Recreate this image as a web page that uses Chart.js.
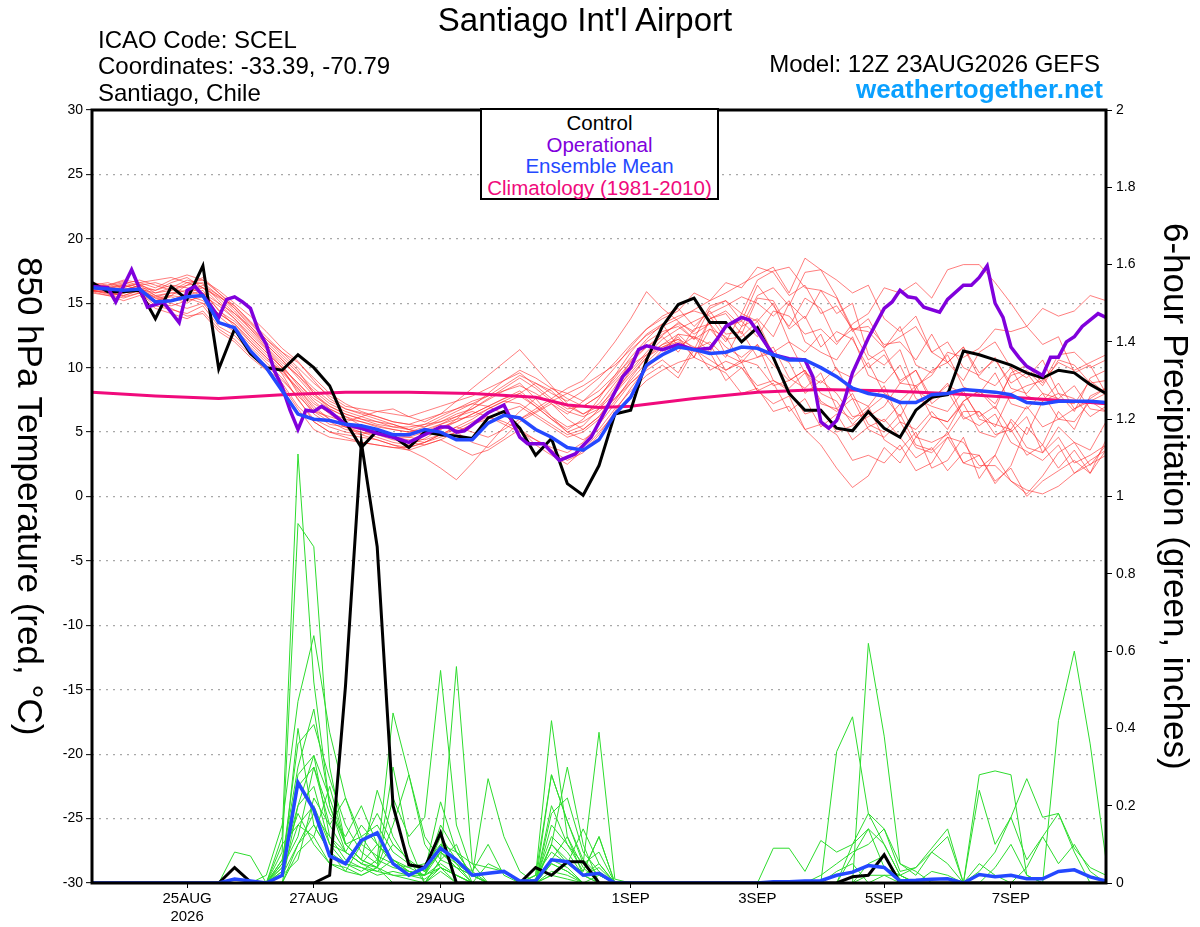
<!DOCTYPE html>
<html>
<head>
<meta charset="utf-8">
<script src="https://cdn.jsdelivr.net/npm/chart.js@4.4.1/dist/chart.umd.min.js"></script>
<style>
  body { margin: 0; background: #fff; font-family: "Liberation Sans", Arial, sans-serif; }
  #wrap { position: relative; width: 1200px; height: 927px; overflow: hidden; }
  #c { position: absolute; left: 0; top: 0; }
  .t { position: absolute; white-space: nowrap; color: #000; line-height: 1; }
  #legend { position: absolute; left: 480px; top: 108px; width: 235px; height: 86px; border: 2px solid #000;
            background: #fff; text-align: center; font-size: 20.5px; line-height: 21.5px; padding-top: 2px; }
  .vt { position: absolute; top: 110px; height: 773px; writing-mode: vertical-rl; text-align: center;
        font-size: 35px; line-height: 35px; white-space: nowrap; }
</style>
</head>
<body>
<div id="wrap">
  <canvas id="c" width="1200" height="927"></canvas>
  <div class="t" style="left:585px;top:3px;font-size:33px;transform:translateX(-50%)">Santiago Int'l Airport</div>
  <div class="t" style="left:98px;top:28px;font-size:24px">ICAO Code: SCEL</div>
  <div class="t" style="left:98px;top:54px;font-size:24px">Coordinates: -33.39, -70.79</div>
  <div class="t" style="left:98px;top:81px;font-size:24px">Santiago, Chile</div>
  <div class="t" style="right:100px;top:52px;font-size:24px">Model: 12Z 23AUG2026 GEFS</div>
  <div class="t" style="right:97px;top:76px;font-size:26px;font-weight:bold;color:#0aa0ff">weathertogether.net</div>
  <div id="legend">
    <div style="color:#000">Control</div>
    <div style="color:#8000dc">Operational</div>
    <div style="color:#2448ff">Ensemble Mean</div>
    <div style="color:#f00a7c">Climatology (1981-2010)</div>
  </div>
  <div class="vt" style="left:13px">850 hPa Temperature (red, °C)</div>
  <div class="vt" style="left:1159px">6-hour Precipitation (green, inches)</div>
</div>
<script>
// forecast hours, 6-hourly from 12Z 23AUG2026
const hours6 = [0,6,12,18,24,30,36,42,48,54, 60,66,72,78,84,90,96,102,108,114,
  120,126,132,138,144,150,156,162,168,174, 180,186,192,198,204,210,216,222,228,234,
  240,246,252,258,264,270,276,282,288,294, 300,306,312,318,324,330,336,342,348,354,
  360,366,372,378,384];

const tickHours = [36, 84, 132, 204, 252, 300, 348];
const tickLabels = [['25AUG', '2026'], '27AUG', '29AUG', '1SEP', '3SEP', '5SEP', '7SEP'];

// control run 850 hPa temperature
const controlTemp = [16.6,15.9,15.9,16.0,13.8,16.3,15.3,17.9,9.9,13.0,
  11.1,10.0,9.8,11.0,10.0,8.6,5.8,3.8,5.1,4.7,
  3.8,5.0,4.8,4.7,4.5,6.1,6.6,5.3,3.2,4.5,
  1.0,0.1,2.4,6.4,6.7,10.6,13.2,14.9,15.4,13.5,
  13.5,12.0,13.1,10.8,8.0,6.7,6.7,5.3,5.1,6.6,
  5.3,4.6,6.7,7.7,7.9,11.3,11.0,10.6,10.2,9.6,
  9.2,9.8,9.6,8.7,8.0];

// ensemble mean 850 hPa temperature
const meanTemp = [16.2,16.1,16.0,16.1,15.1,15.2,15.5,15.6,13.5,13.1,
  11.3,10.0,8.2,6.4,6.0,5.9,5.6,5.5,5.2,4.8,
  4.8,5.2,5.0,4.4,4.4,5.7,6.3,6.1,5.2,4.6,
  3.8,3.6,4.4,6.4,7.7,10.2,11.0,11.6,11.4,11.1,
  11.2,11.6,11.5,11.0,10.6,10.6,10.0,9.3,8.4,8.0,
  7.8,7.3,7.3,7.9,8.0,8.3,8.2,8.1,7.9,7.3,
  7.2,7.4,7.4,7.4,7.3];

// operational run (finer output early on)
const opHours = [0,6,9,15,21,27,33,36,39,42,45,48,51,54,57,60,63,66,69,72,75,78,81,84,87,90,93,96,
  102,108,114,120,126,132,135,138,141,150,156,162,165,171,177,183,189,195,201,204,207,210,
  216,222,228,234,237,240,246,249,252,255,258,264,270,273,276,279,282,285,288,294,
  300,303,306,309,312,315,321,324,330,333,336,339,342,345,348,351,354,360,363,366,369,372,375,381,384];
const opTemp = [16.3,16.2,15.1,17.6,14.7,15.1,13.5,16.0,16.3,15.6,14.8,13.9,15.3,15.5,15.1,14.6,12.9,11.8,9.8,8.5,6.7,5.2,6.7,6.6,7.0,6.6,6.1,5.6,
  5.3,4.9,4.6,4.2,4.8,5.4,5.4,5.0,5.1,6.5,7.1,4.6,4.1,4.1,2.8,3.3,4.6,6.9,9.3,10.0,11.4,11.7,
  11.4,11.8,11.4,11.5,12.3,13.2,13.9,13.7,12.8,11.9,11.0,10.7,10.6,9.3,5.8,5.3,5.9,7.5,9.6,12.3,
  14.6,15.1,16.0,15.5,15.4,14.7,14.3,15.3,16.4,16.4,17.0,17.9,15.0,13.9,11.6,10.8,10.1,9.4,10.8,10.8,12.0,12.4,13.2,14.2,13.9];

// 1981-2010 climatology
const climHours = [0,24,48,72,96,120,144,168,180,192,204,228,252,276,300,324,348,372,384];
const climTemp = [8.1,7.8,7.6,7.9,8.1,8.1,8.0,7.7,7.1,6.9,7.0,7.6,8.1,8.3,8.2,8.0,7.7,7.4,7.2];

// ensemble members, 850 hPa temperature
const m1 = [16.2,16.0,16.3,16.5,15.8,16.2,16.8,16.5,15.2,14.0, 12.8,11.5,10.2,8.6,7.2,6.5,6.0,5.8,5.5,5.2, 5.0,5.4,5.8,6.4,6.8,7.5,8.2,8.8,7.6,6.2, 5.0,5.5,6.8,8.5, 10.5,12.0,12.8,13.2,12.2,13.0,11.6,10.8,11.8,10.2, 9.0,9.8,8.0,7.4,5.6,6.8,7.8,6.2,8.4,9.8, 10.4,9.0,11.2,12.0,10.0,9.2,10.6,8.0,7.6,6.2, 7.0];
const m2 = [16.0,15.8,15.6,16.0,15.2,15.5,15.0,15.8,14.5,13.2, 12.0,10.8,9.5,7.5,6.0,5.4,5.0,4.8,5.2,4.6, 4.2,4.8,5.5,5.0,4.2,3.8,4.6,5.8,6.5,7.2, 6.0,5.2,6.2,8.0, 9.8,11.2,12.5,13.5,12.8,14.8,15.2,14.2,16.8,17.5, 17.8,16.2,16.0,14.2,15.0,11.0,10.2,11.4,8.2,7.5, 8.8,6.2,5.5,6.4,4.2,3.5,2.8,4.0,1.8,2.5, 3.2];
const m3 = [16.4,16.2,16.0,16.4,16.0,16.6,17.0,16.2,15.5,14.8, 13.5,12.2,11.0,9.8,8.0,6.8,6.2,5.5,5.0,4.6, 4.4,4.2,4.8,5.4,6.0,6.8,7.4,8.0,8.8,8.2, 7.0,6.4,7.2,8.8, 10.2,11.0,11.8,12.2,11.6,9.8,10.5,10.0,8.6,9.0, 8.2,6.4,6.8,5.0,5.5,6.2,7.0,8.8,8.6,9.4, 11.2,10.8,11.5,13.0,12.8,13.2,14.6,14.0,14.4,15.6, 15.2];
const m4 = [16.0,15.9,15.5,15.8,14.8,14.5,14.2,14.8,13.2,12.5, 11.2,10.0,8.8,7.0,5.8,5.0,4.6,4.2,4.0,3.8, 3.6,4.0,4.4,3.8,3.2,3.6,4.4,5.2,4.0,3.2, 2.5,3.6,5.0,6.4, 7.8,9.0,9.8,10.4,10.8,10.2,9.6,8.0,8.4,6.6, 7.0,5.2,5.6,4.8,2.8,3.2,2.6,4.0,2.0,2.6, 4.6,4.2,2.4,2.4,1.2,0.5,0.2,0.8,1.8,2.8, 3.6];
const m5 = [16.6,16.4,16.8,16.6,16.2,16.8,17.2,16.8,16.0,15.0, 14.0,12.8,11.5,10.5,9.0,7.6,6.8,6.5,6.2,5.8, 5.6,6.0,6.4,6.8,7.2,7.0,6.4,6.0,6.6,7.4, 8.0,8.6,9.4,10.2, 11.4,12.5,13.2,13.8,14.5,15.2,15.8,16.5,17.2,17.8, 15.8,18.5,17.6,15.5,13.0,12.8,11.5,13.2,10.2,9.6, 11.0,8.5,8.0,9.6,7.2,6.8,8.0,6.0,5.8,7.4, 6.6];
const m6 = [16.1,16.0,15.8,16.2,15.0,14.8,15.2,15.5,14.0,13.0, 11.8,10.6,9.8,8.2,6.6,5.8,5.2,5.0,4.6,4.2, 4.0,4.5,5.2,6.0,7.0,8.0,9.0,9.6,8.6,7.6, 6.8,7.0,7.8,9.2, 10.8,12.2,13.4,14.0,14.4,14.0,12.2,12.4,13.6,11.0, 10.4,8.0,9.0,8.0,6.2,6.4,5.8,7.2,4.6,4.2, 4.8,6.6,6.6,5.4,8.0,8.6,9.0,10.4,9.8,10.4, 11.0];
const m7 = [15.9,15.6,15.2,15.6,14.6,14.2,13.8,14.4,13.0,12.2, 11.0,10.2,9.0,7.8,6.6,6.2,5.8,6.2,6.6,6.8, 6.2,5.8,6.4,7.4,8.4,9.4,10.4,11.4,10.0,8.6, 7.2,6.4,7.0,8.2, 9.6,11.0,12.2,13.0,13.6,14.2,14.8,15.5,15.0,14.0, 15.2,12.0,11.2,10.6,12.4,9.4,8.8,10.2,7.6,7.0, 6.6,8.2,6.0,5.6,5.2,7.0,5.4,6.0,6.8,7.6, 8.4];
const m8 = [16.3,16.1,16.4,16.0,15.5,15.8,16.0,15.6,14.8,13.8, 12.6,11.4,10.0,8.8,7.4,6.4,5.6,5.2,4.8,4.4, 4.2,4.0,4.4,5.0,5.6,6.0,6.6,7.0,6.2,5.4, 4.6,5.0,6.0,7.4, 9.2,10.8,11.6,12.0,11.4,10.6,9.8,10.4,8.2,7.2, 7.8,5.2,4.0,2.2,0.7,1.6,3.8,2.6,4.6,6.2, 5.8,7.4,8.2,7.2,9.4,9.8,8.6,10.6,10.2,8.8, 9.0];
const m9 = [16.0,16.2,16.5,16.8,16.4,16.0,16.4,17.0,15.8,14.6, 13.2,11.8,10.6,9.2,7.8,7.0,6.4,6.0,5.8,5.6, 5.2,5.0,5.6,6.2,6.6,6.2,5.6,5.0,4.4,3.8, 3.4,4.2,5.6,7.2, 8.8,10.0,11.0,12.6,12.4,11.2,13.2,13.6,12.4,14.4, 14.0,12.6,13.0,11.8,13.4,14.2,16.2,15.8,16.6,15.4, 17.6,18.0,18.0,16.6,15.0,13.2,11.8,12.4,9.6,10.2, 8.0];
const m10 = [16.2,16.3,16.0,16.2,15.6,15.2,15.6,16.0,14.4,13.6, 12.4,11.2,10.0,8.0,6.4,5.6,5.4,5.2,5.0,4.8, 4.6,4.4,4.8,5.2,5.8,6.4,7.2,7.8,7.0,6.0, 5.2,6.0,7.6,9.4, 11.2,12.6,13.4,11.6,12.4,11.8,9.8,10.6,10.2,8.6, 9.0,9.8,7.4,6.6,7.6,5.2,4.6,5.8,3.8,3.4, 4.6,2.6,2.2,3.2,1.2,0.2,1.6,3.4,4.2,3.6, 5.8];
const m11 = [15.8,15.6,15.8,16.2,15.4,15.6,16.4,16.6,15.6,14.4, 13.0,11.6,10.4,9.4,8.2,7.2,6.6,6.2,5.8,5.4, 5.2,5.6,6.2,6.8,7.4,7.8,8.2,8.6,8.0,7.2, 6.4,7.4,8.6,10.0, 11.6,13.0,14.0,14.6,13.2,14.4,12.6,12.8,10.8,11.2, 12.0,9.6,8.8,10.0,7.6,7.0,8.6,5.8,5.2,6.6, 5.2,7.4,8.2,6.8,9.6,10.2,8.8,11.0,11.2,10.0, 10.6];
const m12 = [16.2,16.0,15.8,16.0,15.2,15.0,14.6,15.0,13.6,12.8, 11.6,10.4,9.2,7.6,5.8,5.0,4.8,4.6,4.4,4.0, 3.8,4.2,4.8,5.4,5.0,4.6,5.2,6.0,6.8,7.6, 8.4,9.0,10.4,12.0, 13.8,15.9,14.6,13.6,12.6,13.4,11.0,10.4,11.8,9.0, 8.4,9.6,7.2,6.8,8.0,5.6,5.0,6.4,4.0,3.6, 5.0,2.6,3.2,1.0,2.4,5.4,4.0,6.6,5.2,7.8, 8.4];
const m13 = [16.0,15.8,16.0,16.4,15.6,15.8,15.6,15.2,14.2,13.4, 12.0,10.8,9.6,8.4,7.0,6.0,5.4,4.8,4.4,4.0, 3.6,3.0,2.2,1.3,2.6,4.0,5.4,6.6,7.6,8.4, 8.0,7.4,8.2,9.4, 10.6,11.6,12.4,11.2,13.0,13.4,12.0,14.2,13.6,15.0, 12.0,11.2,12.6,9.8,9.2,10.4,8.0,7.4,8.6,6.2, 5.8,7.2,5.0,4.6,5.8,3.8,3.4,4.6,2.6,3.2, 4.0];
const m14 = [16.4,16.6,16.2,16.6,16.8,17.0,16.6,16.2,15.4,14.2, 13.0,11.8,10.6,9.4,8.0,7.0,6.4,6.0,5.6,5.4, 5.4,5.6,5.8,6.2,6.8,7.6,8.4,9.2,8.4,7.4, 6.6,6.2,6.8,8.0, 9.4,10.8,11.8,12.6,11.4,13.8,14.4,13.2,15.6,16.2, 14.8,17.4,17.6,16.8,15.8,16.4,13.8,12.8,14.0,11.2, 10.4,11.6,9.2,8.6,10.0,7.8,7.4,8.8,6.8,7.4, 8.0];
const m15 = [16.0,15.7,15.4,15.8,15.0,14.6,14.0,14.2,12.8,12.0, 10.8,9.8,8.6,6.8,5.2,4.6,4.4,4.2,4.0,3.8, 3.8,4.2,4.6,5.0,5.6,6.2,5.8,5.2,4.4,3.6, 2.8,3.4,4.8,6.6, 8.4,10.0,11.4,12.4,10.8,13.8,14.2,12.6,15.4,15.2, 13.0,14.0,11.6,12.8,12.2,10.0,11.0,9.0,9.8,7.6, 8.6,8.0,6.2,7.0,5.0,6.2,3.4,5.4,4.2,2.4, 4.0];
const m16 = [16.5,16.3,16.6,16.2,16.0,16.4,16.2,15.8,15.0,14.2, 13.2,12.0,10.8,9.6,8.4,7.4,6.8,6.4,6.0,5.6, 5.2,4.8,5.2,5.8,6.4,7.0,7.6,8.2,7.2,6.2, 5.4,5.8,6.6,7.6, 8.8,9.8,10.6,9.6,11.6,11.2,9.0,10.0,8.2,8.8, 6.6,7.6,5.4,6.4,4.4,5.4,6.0,4.6,3.0,3.8, 2.0,3.4,3.2,1.2,2.2,0.0,1.2,2.0,2.8,1.8, 4.4];
const m17 = [16.3,16.4,16.7,16.4,16.6,16.2,15.8,16.4,15.6,14.6, 13.4,12.2,11.2,10.4,9.2,8.0,7.2,6.6,6.2,5.8, 5.6,5.4,6.0,6.6,7.2,7.8,8.6,9.4,8.8,8.0, 7.4,8.2,9.2,10.4, 11.8,13.0,13.8,14.4,15.8,15.2,16.6,16.2,17.8,17.4, 15.6,16.4,14.2,14.8,13.0,13.2,11.8,12.0,10.6,12.6, 10.4,11.6,9.6,10.6,8.8,9.6,8.0,7.6,8.6,6.8, 6.6];
const m18 = [15.9,16.0,16.2,15.8,15.2,15.6,15.4,15.0,14.2,13.4, 12.2,11.0,9.8,8.4,6.8,6.0,5.4,5.0,4.8,4.6, 4.6,5.0,5.4,5.8,6.4,7.0,7.6,8.0,7.0,6.0, 5.0,4.4,5.2,6.8, 8.2,9.4,10.2,9.2,11.4,12.0,10.8,13.2,13.8,12.4, 15.0,13.8,16.0,15.4,12.8,13.8,11.6,12.4,13.2,11.2, 12.0,10.0,9.4,10.8,8.4,8.0,9.4,7.4,7.2,9.0, 8.0];
const m19 = [16.2,15.9,15.6,16.0,15.4,15.2,15.8,16.2,15.0,13.8, 12.4,11.2,10.0,8.8,7.6,6.8,6.2,5.8,5.4,5.2, 5.0,5.2,5.6,6.0,6.2,6.8,7.4,7.2,6.4,5.6, 4.8,5.2,6.2,7.6, 9.0,10.4,11.6,12.2,10.8,13.0,12.4,10.4,10.8,11.6, 9.2,8.4,9.6,6.8,6.0,7.0,4.4,3.6,5.0,2.2, 2.8,4.6,1.4,3.2,6.0,4.8,7.4,8.0,6.6,9.2, 9.8];
const m20 = [16.1,16.2,16.4,16.1,15.8,16.0,16.6,16.8,15.8,14.8, 13.6,12.4,11.2,10.0,8.8,7.8,7.0,6.8,6.6,6.4, 6.2,6.6,7.0,7.4,7.8,8.4,9.0,9.8,9.2,8.4, 7.6,7.0,7.8,9.0, 10.4,11.6,12.6,13.4,12.2,14.6,15.2,13.6,16.4,14.8, 13.2,15.4,14.6,12.0,13.0,10.6,11.4,8.8,9.8,7.2, 8.2,6.0,6.6,4.8,5.2,3.2,4.0,2.2,3.6,1.8, 3.6];
const tempMembers = [m1,m2,m3,m4,m5,m6,m7,m8,m9,m10,m11,m12,m13,m14,m15,m16,m17,m18,m19,m20];

// 6-hour precipitation (inches)
const controlPrecip = [0,0,0,0,0,0,0,0,0,0.04, 0.003,0,0,0,0,0.02,0.51,1.14,0.87,0.2,
  0.047,0.04,0.13,0,0,0,0,0,0.04,0.02, 0.055,0.055,0,0,0,0,0,0,0,0,
  0,0,0,0,0,0,0,0,0.016,0.02, 0.073,0,0,0,0,0,0,0,0,0, 0,0,0,0,0];
const meanPrecip = [0,0,0,0,0,0,0,0,0,0.01, 0.005,0,0.02,0.26,0.19,0.07,0.05,0.11,0.13,0.05,
  0.02,0.04,0.09,0.06,0.02,0.025,0.03,0.005,0.005,0.06, 0.055,0.02,0.025,0,0,0,0,0,0,0,
  0,0,0,0.003,0.003,0.005,0.006,0.02,0.028,0.045, 0.04,0.005,0.007,0.01,0.011,0,0.022,0.016,0.02,0.011,
  0.011,0.03,0.034,0.016,0.005];

const g1 = [0,0,0,0,0,0,0,0,0,0, 0,0,0.12,1.11,0.52,0.2,0.08,0.05,0.1,0.06, 0.03,0.02,0.1,0.05,0,0,0,0,0,0.02, 0.01,0,0,0,0,0,0,0,0,0, 0,0,0,0,0,0,0,0,0,0, 0,0,0,0,0,0,0,0,0,0, 0,0,0,0,0];
const g2 = [0,0,0,0,0,0,0,0,0,0, 0,0,0.08,0.93,0.87,0.3,0.1,0.06,0.24,0.12, 0.05,0.03,0.21,0.08,0.02,0,0,0,0,0.06, 0.04,0,0.02,0,0,0,0,0,0,0, 0,0,0,0,0,0,0,0,0.07,0.14, 0.1,0.02,0,0,0,0,0,0,0,0, 0,0,0,0,0];
const g3 = [0,0,0,0,0,0,0,0,0,0, 0,0.02,0.15,0.47,0.64,0.39,0.22,0.12,0.06,0.44, 0.28,0.1,0.04,0.02,0,0.05,0.03,0,0.02,0.28, 0.16,0.05,0.39,0.01,0,0,0,0,0,0, 0,0,0,0,0,0,0,0,0,0, 0,0,0,0,0,0,0,0,0,0, 0,0,0,0,0];
const g4 = [0,0,0,0,0,0,0,0,0,0.08, 0.07,0,0.05,0.36,0.41,0.27,0.15,0.08,0.05,0.22, 0.12,0.17,0.55,0.15,0.03,0.1,0.02,0,0,0.2, 0.1,0.03,0.12,0,0,0,0,0,0,0, 0,0,0,0.09,0.09,0.03,0.11,0.08,0.1,0.18, 0.14,0.03,0.04,0.08,0.12,0,0.03,0.08,0.17,0.06, 0.12,0.18,0.09,0.04,0.02];
const g5 = [0,0,0,0,0,0,0,0,0,0, 0,0,0.04,0.28,0.33,0.12,0.06,0.04,0.03,0.02, 0.01,0,0.06,0.56,0.05,0,0,0,0.02,0.42, 0.12,0.02,0,0,0,0,0,0,0,0, 0,0,0,0,0,0,0,0,0,0.62, 0.38,0.05,0.03,0,0,0,0,0,0,0, 0,0,0,0,0];
const g6 = [0,0,0,0,0,0,0,0,0,0, 0,0,0,0.2,0.25,0.1,0.05,0.04,0.02,0.03, 0.02,0.02,0.05,0.02,0,0,0,0,0,0.05, 0.03,0,0,0,0,0,0,0,0,0, 0,0,0,0,0,0,0,0.34,0.43,0.18, 0.1,0.02,0,0,0,0,0.28,0.29,0.28,0.02, 0,0,0,0,0];
const g7 = [0,0,0,0,0,0,0,0,0,0, 0,0,0.03,0.15,0.2,0.1,0.08,0.05,0.04,0.1, 0.06,0.03,0.08,0.05,0.02,0,0,0,0.01,0.1, 0.06,0.02,0.05,0,0,0,0,0,0,0, 0,0,0,0,0,0,0,0,0,0, 0.02,0,0,0,0,0,0,0.04,0.1,0.02, 0,0.42,0.6,0.36,0.06];
const g8 = [0,0,0,0,0,0,0,0,0,0, 0,0,0,0.1,0.15,0.08,0.05,0.03,0.06,0.04, 0.03,0.02,0.04,0.02,0,0,0,0,0,0.03, 0.02,0,0,0,0,0,0,0,0,0, 0,0,0,0,0,0,0,0,0,0.02, 0.02,0.02,0.04,0.09,0.14,0,0.24,0.1,0.17,0.27, 0.17,0.18,0.08,0,0];
const g9 = [0,0,0,0,0,0,0,0,0,0, 0,0,0.05,0.2,0.33,0.22,0.1,0.06,0.04,0.15, 0.28,0.12,0.06,0.04,0.02,0.27,0.12,0.03,0,0.28, 0.16,0.06,0.02,0,0,0,0,0,0,0, 0,0,0,0,0,0,0.02,0.05,0.08,0.1, 0.14,0.05,0.02,0.08,0.05,0,0,0,0,0.04, 0.12,0.05,0.1,0.03,0];
const g10 = [0,0,0,0,0,0,0,0,0,0, 0,0,0.02,0.1,0.18,0.12,0.08,0.15,0.1,0.06, 0.04,0.05,0.1,0.08,0.05,0.04,0.03,0,0.02,0.08, 0.05,0.03,0.12,0,0,0,0,0,0,0, 0,0,0,0,0,0,0,0,0.1,0.14, 0.04,0.02,0,0,0,0,0,0,0,0, 0,0,0,0,0];
const g11 = [0,0,0,0,0,0,0,0,0,0, 0,0,0.06,0.3,0.45,0.2,0.1,0.12,0.15,0.08, 0.05,0.03,0.08,0.04,0.02,0,0,0,0,0.15, 0.1,0.05,0.08,0,0,0,0,0,0,0, 0,0,0,0,0,0,0,0,0,0, 0,0,0,0,0,0,0.05,0.02,0,0, 0,0,0,0,0];
const g12 = [0,0,0,0,0,0,0,0,0,0, 0,0,0.03,0.25,0.3,0.15,0.22,0.1,0.07,0.05, 0.04,0.02,0.12,0.06,0.03,0,0,0,0,0.1, 0.05,0.02,0,0,0,0,0,0,0,0, 0,0,0,0,0,0,0,0,0,0.05, 0.07,0.01,0,0,0,0,0,0,0,0, 0,0,0,0,0];
const g13 = [0,0,0,0,0,0,0,0,0,0, 0,0,0.1,0.15,0.12,0.05,0.03,0.02,0.04,0.02, 0.02,0.01,0.04,0.02,0,0,0,0,0,0.05, 0.03,0,0,0,0,0,0,0,0,0, 0,0,0,0,0,0,0,0,0,0, 0,0,0,0,0,0,0,0,0,0, 0,0,0,0,0];
const g14 = [0,0,0,0,0,0,0,0,0,0, 0,0,0.02,0.06,0.22,0.15,0.08,0.05,0.03,0.06, 0.03,0.02,0.15,0.08,0.02,0,0,0,0.01,0.12, 0.08,0.02,0.04,0,0,0,0,0,0,0, 0,0,0,0,0,0,0,0,0,0, 0,0,0,0,0,0,0,0,0,0, 0,0,0,0,0];
const g15 = [0,0,0,0,0,0,0,0,0,0, 0,0,0.04,0.12,0.3,0.18,0.12,0.2,0.1,0.05, 0.03,0.02,0.08,0.04,0,0,0,0,0,0.18, 0.22,0.08,0.03,0,0,0,0,0,0,0, 0,0,0,0,0,0,0,0,0,0, 0,0,0,0,0,0,0,0,0,0, 0,0,0,0,0];
const g16 = [0,0,0,0,0,0,0,0,0,0, 0,0,0.02,0.4,0.15,0.08,0.03,0.1,0.18,0.1, 0.06,0,0.03,0,0,0,0,0,0,0.06, 0.12,0.04,0,0,0,0,0,0,0,0, 0,0,0,0,0,0,0,0.03,0.05,0, 0,0,0,0,0,0,0,0,0,0, 0,0,0,0,0];
const g17 = [0,0,0,0,0,0,0,0,0,0, 0,0,0,0.08,0.12,0.25,0.1,0.06,0.04,0.3, 0.1,0,0.06,0.1,0,0,0,0,0,0.02, 0.05,0.14,0.05,0,0,0,0,0,0,0, 0,0,0,0,0,0,0,0,0,0, 0,0,0,0,0,0,0,0,0,0, 0,0,0,0,0];
const g18 = [0,0,0,0,0,0,0,0,0,0, 0,0,0.06,0.18,0.1,0.05,0.04,0.02,0.04,0, 0,0,0.04,0,0,0,0,0,0,0.1, 0.3,0.1,0,0,0,0,0,0,0,0, 0,0,0,0,0,0,0,0,0,0, 0,0,0,0.03,0.02,0,0,0,0,0, 0,0,0,0,0];
const precipMembers = [g1,g2,g3,g4,g5,g6,g7,g8,g9,g10,g11,g12,g13,g14,g15,g16,g17,g18];

Chart.defaults.font.family = '"Liberation Sans", Arial, sans-serif';
Chart.defaults.color = '#000';

const pts = (xs, ys) => ys.map((v, i) => ({ x: xs[i], y: v }));
const line = (xs, ys, axis, color, width, order) => ({
  data: pts(xs, ys), yAxisID: axis, borderColor: color, borderWidth: width,
  pointRadius: 0, tension: 0, fill: false, order: order
});

const datasets = [];
tempMembers.forEach(m => datasets.push(line(hours6, m, 'y', 'rgba(255,40,40,0.6)', 1, 6)));
precipMembers.forEach(g => datasets.push(line(hours6, g, 'y1', '#2ddc2d', 1, 5)));
datasets.push(line(climHours, climTemp, 'y', '#f00a7c', 3, 4));
datasets.push(line(hours6, controlPrecip, 'y1', '#000', 3, 3));
datasets.push(line(hours6, controlTemp, 'y', '#000', 3, 3));
datasets.push(line(opHours, opTemp, 'y', '#8000dc', 3.5, 2));
datasets.push(line(hours6, meanPrecip, 'y1', '#2448ff', 3.5, 1));
datasets.push(line(hours6, meanTemp, 'y', '#2448ff', 3.5, 1));

// thick frame round the plot area
const frame = {
  id: 'frame',
  afterDraw(chart) {
    const { ctx, chartArea: a } = chart;
    ctx.save();
    ctx.strokeStyle = '#000';
    ctx.lineWidth = 3;
    ctx.strokeRect(a.left, a.top, a.right - a.left, a.bottom - a.top);
    ctx.restore();
  }
};

new Chart(document.getElementById('c'), {
  type: 'line',
  data: { datasets: datasets },
  options: {
    responsive: false,
    animation: false,
    events: [],
    layout: { padding: { top: 110, left: 0, right: 0, bottom: 0 } },
    plugins: { legend: { display: false }, tooltip: { enabled: false } },
    scales: {
      x: {
        type: 'linear', min: 0, max: 384,
        afterBuildTicks: s => { s.ticks = tickHours.map(v => ({ value: v })); },
        afterFit: s => { s.height = 44; },
        ticks: {
          autoSkip: false, maxRotation: 0, padding: 2,
          font: { size: 15 }, color: '#000',
          callback: v => tickLabels[tickHours.indexOf(v)]
        },
        grid: { drawOnChartArea: false, drawTicks: true, tickLength: 5, color: '#000', lineWidth: 1 },
        border: { display: false }
      },
      y: {
        position: 'left', min: -30, max: 30,
        afterFit: s => { s.width = 92; },
        ticks: { stepSize: 5, padding: 3, font: { size: 14 }, color: '#000' },
        grid: {
          color: c => (c.tick && (c.tick.value === 30 || c.tick.value === -30)) ? 'rgba(0,0,0,0)' : '#a8a8a8',
          lineWidth: 1.3, tickLength: 6, tickColor: '#000', tickWidth: 1
        },
        border: { display: false, dash: [2, 5] }
      },
      y1: {
        position: 'right', min: 0, max: 2,
        afterFit: s => { s.width = 94; },
        ticks: {
          stepSize: 0.2, padding: 4, font: { size: 14 }, color: '#000',
          callback: v => String(Number(v.toFixed(1)))
        },
        grid: { drawOnChartArea: false, tickLength: 6, color: '#000', lineWidth: 1 },
        border: { display: false }
      }
    }
  },
  plugins: [frame]
});
</script>
</body>
</html>
